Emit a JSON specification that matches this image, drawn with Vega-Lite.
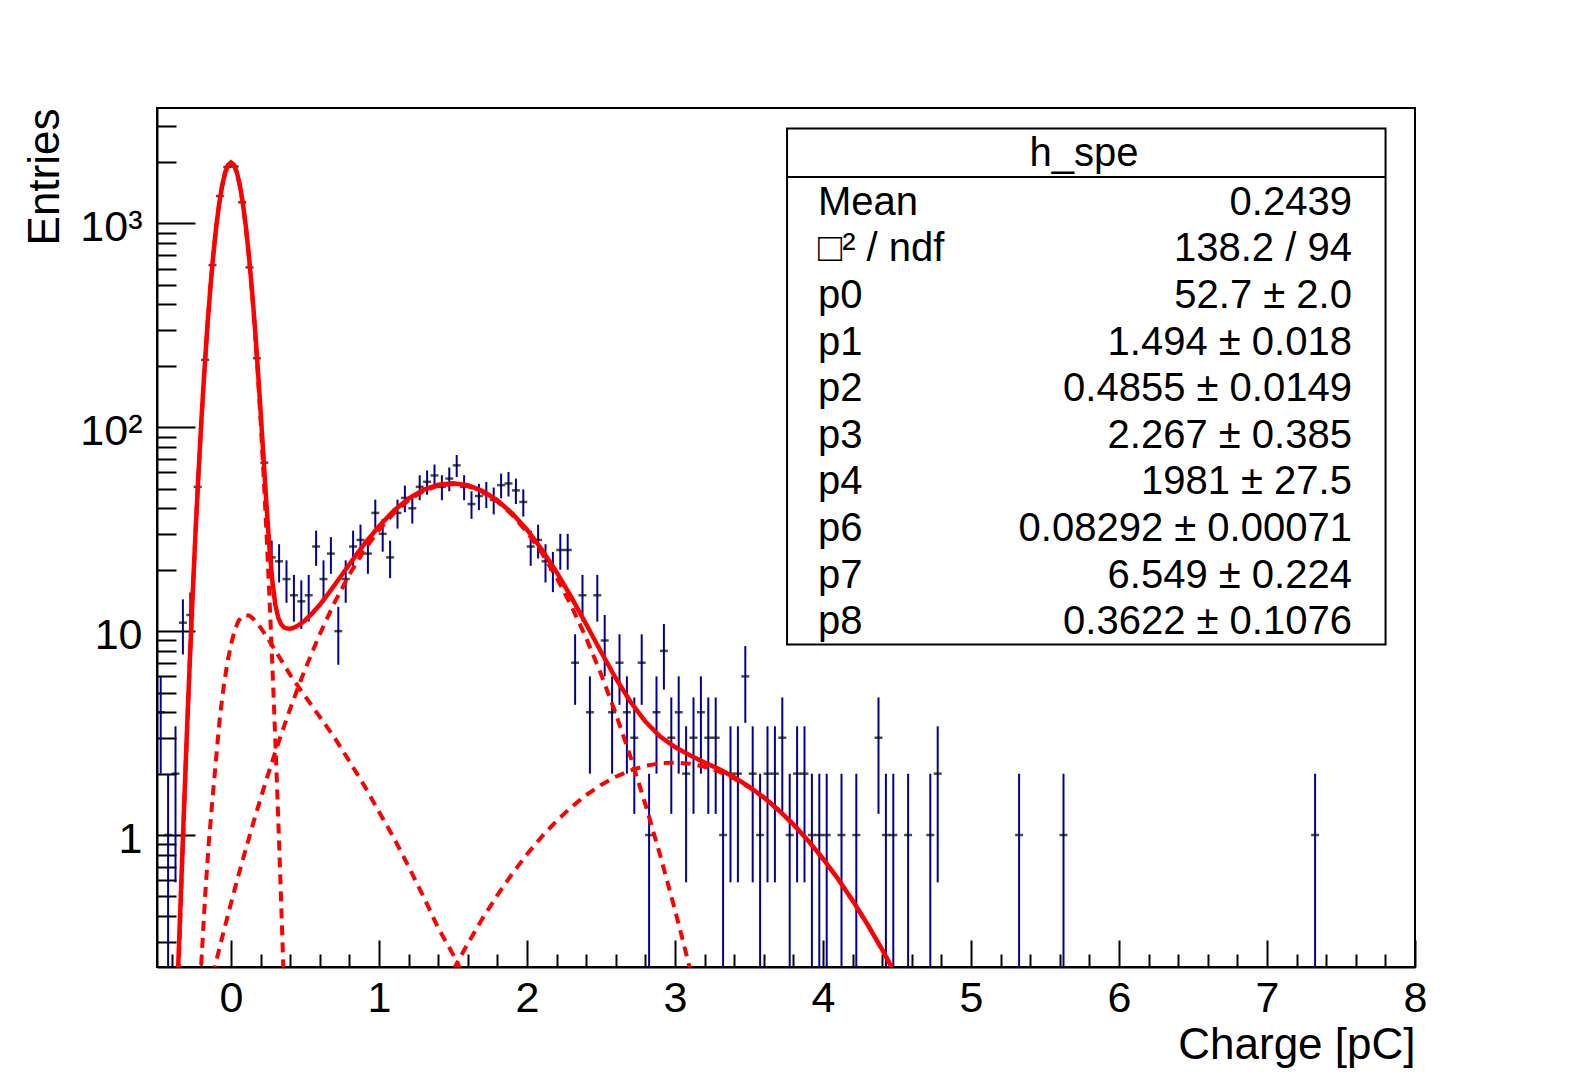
{
  "$schema": "https://vega.github.io/schema/vega-lite/v6.json",
  "width": 1258,
  "height": 859,
  "autosize": {"type": "none"},
  "padding": {"left": 157, "top": 108, "right": 160, "bottom": 108},
  "background": "white",
  "config": {
    "view": {"stroke": "black", "strokeWidth": 2},
    "font": "Liberation Sans",
    "axis": {"grid": false, "domainColor": "black", "domainWidth": 2, "tickColor": "black", "tickWidth": 2, "labelColor": "black", "titleColor": "black", "labelFont": "Liberation Sans", "titleFont": "Liberation Sans", "titleFontWeight": "normal"}
  },
  "datasets": {
    "hist": [
      {"x":-0.475,"n":4,"lo":2,"hi":6},
      {"x":-0.425,"n":1,"lo":0.001,"hi":2},
      {"x":-0.375,"n":2,"lo":0.586,"hi":3.414},
      {"x":-0.325,"n":11,"lo":7.683,"hi":14.317},
      {"x":-0.275,"n":12,"lo":8.536,"hi":15.464},
      {"x":-0.225,"n":51,"lo":43.86,"hi":58.14},
      {"x":-0.175,"n":214,"lo":199.37,"hi":228.63},
      {"x":-0.125,"n":624,"lo":599.02,"hi":648.98},
      {"x":-0.075,"n":1361,"lo":1324.11,"hi":1397.89},
      {"x":-0.025,"n":1890,"lo":1846.53,"hi":1933.47},
      {"x":0.025,"n":1900,"lo":1856.41,"hi":1943.59},
      {"x":0.075,"n":1268,"lo":1232.39,"hi":1303.61},
      {"x":0.125,"n":608,"lo":583.34,"hi":632.66},
      {"x":0.175,"n":218,"lo":203.24,"hi":232.76},
      {"x":0.225,"n":67,"lo":58.81,"hi":75.19},
      {"x":0.275,"n":23,"lo":18.2,"hi":27.8},
      {"x":0.325,"n":22,"lo":17.31,"hi":26.69},
      {"x":0.375,"n":18,"lo":13.76,"hi":22.24},
      {"x":0.425,"n":15,"lo":11.13,"hi":18.87},
      {"x":0.475,"n":14,"lo":10.26,"hi":17.74},
      {"x":0.525,"n":15,"lo":11.13,"hi":18.87},
      {"x":0.575,"n":26,"lo":20.9,"hi":31.1},
      {"x":0.625,"n":18,"lo":13.76,"hi":22.24},
      {"x":0.675,"n":24,"lo":19.1,"hi":28.9},
      {"x":0.725,"n":10,"lo":6.84,"hi":13.16},
      {"x":0.775,"n":18,"lo":13.76,"hi":22.24},
      {"x":0.825,"n":26,"lo":20.9,"hi":31.1},
      {"x":0.875,"n":28,"lo":22.71,"hi":33.29},
      {"x":0.925,"n":24,"lo":19.1,"hi":28.9},
      {"x":0.975,"n":38,"lo":31.84,"hi":44.16},
      {"x":1.025,"n":30,"lo":24.52,"hi":35.48},
      {"x":1.075,"n":23,"lo":18.2,"hi":27.8},
      {"x":1.125,"n":38,"lo":31.84,"hi":44.16},
      {"x":1.175,"n":45,"lo":38.29,"hi":51.71},
      {"x":1.225,"n":40,"lo":33.68,"hi":46.32},
      {"x":1.275,"n":51,"lo":43.86,"hi":58.14},
      {"x":1.325,"n":54,"lo":46.65,"hi":61.35},
      {"x":1.375,"n":58,"lo":50.38,"hi":65.62},
      {"x":1.425,"n":51,"lo":43.86,"hi":58.14},
      {"x":1.475,"n":56,"lo":48.52,"hi":63.48},
      {"x":1.525,"n":65,"lo":56.94,"hi":73.06},
      {"x":1.575,"n":51,"lo":43.86,"hi":58.14},
      {"x":1.625,"n":42,"lo":35.52,"hi":48.48},
      {"x":1.675,"n":46,"lo":39.22,"hi":52.78},
      {"x":1.725,"n":47,"lo":40.14,"hi":53.86},
      {"x":1.775,"n":44,"lo":37.37,"hi":50.63},
      {"x":1.825,"n":52,"lo":44.79,"hi":59.21},
      {"x":1.875,"n":53,"lo":45.72,"hi":60.28},
      {"x":1.925,"n":49,"lo":42,"hi":56},
      {"x":1.975,"n":43,"lo":36.44,"hi":49.56},
      {"x":2.025,"n":26,"lo":20.9,"hi":31.1},
      {"x":2.075,"n":28,"lo":22.71,"hi":33.29},
      {"x":2.125,"n":22,"lo":17.31,"hi":26.69},
      {"x":2.175,"n":20,"lo":15.53,"hi":24.47},
      {"x":2.225,"n":25,"lo":20,"hi":30},
      {"x":2.275,"n":25,"lo":20,"hi":30},
      {"x":2.325,"n":7,"lo":4.35,"hi":9.65},
      {"x":2.375,"n":15,"lo":11.13,"hi":18.87},
      {"x":2.425,"n":4,"lo":2,"hi":6},
      {"x":2.475,"n":15,"lo":11.13,"hi":18.87},
      {"x":2.525,"n":9,"lo":6,"hi":12},
      {"x":2.575,"n":4,"lo":2,"hi":6},
      {"x":2.625,"n":7,"lo":4.35,"hi":9.65},
      {"x":2.675,"n":4,"lo":2,"hi":6},
      {"x":2.725,"n":3,"lo":1.27,"hi":4.73},
      {"x":2.775,"n":7,"lo":4.35,"hi":9.65},
      {"x":2.825,"n":1,"lo":0.001,"hi":2},
      {"x":2.875,"n":4,"lo":2,"hi":6},
      {"x":2.925,"n":8,"lo":5.17,"hi":10.83},
      {"x":2.975,"n":3,"lo":1.27,"hi":4.73},
      {"x":3.025,"n":4,"lo":2,"hi":6},
      {"x":3.075,"n":2,"lo":0.586,"hi":3.414},
      {"x":3.125,"n":3,"lo":1.27,"hi":4.73},
      {"x":3.175,"n":4,"lo":2,"hi":6},
      {"x":3.225,"n":3,"lo":1.27,"hi":4.73},
      {"x":3.275,"n":3,"lo":1.27,"hi":4.73},
      {"x":3.325,"n":1,"lo":0.001,"hi":2},
      {"x":3.375,"n":2,"lo":0.586,"hi":3.414},
      {"x":3.425,"n":2,"lo":0.586,"hi":3.414},
      {"x":3.475,"n":6,"lo":3.55,"hi":8.45},
      {"x":3.525,"n":2,"lo":0.586,"hi":3.414},
      {"x":3.575,"n":1,"lo":0.001,"hi":2},
      {"x":3.625,"n":2,"lo":0.586,"hi":3.414},
      {"x":3.675,"n":2,"lo":0.586,"hi":3.414},
      {"x":3.725,"n":3,"lo":1.27,"hi":4.73},
      {"x":3.775,"n":1,"lo":0.001,"hi":2},
      {"x":3.825,"n":2,"lo":0.586,"hi":3.414},
      {"x":3.875,"n":2,"lo":0.586,"hi":3.414},
      {"x":3.925,"n":1,"lo":0.001,"hi":2},
      {"x":3.975,"n":1,"lo":0.001,"hi":2},
      {"x":4.025,"n":1,"lo":0.001,"hi":2},
      {"x":4.125,"n":1,"lo":0.001,"hi":2},
      {"x":4.225,"n":1,"lo":0.001,"hi":2},
      {"x":4.375,"n":3,"lo":1.27,"hi":4.73},
      {"x":4.425,"n":1,"lo":0.001,"hi":2},
      {"x":4.475,"n":1,"lo":0.001,"hi":2},
      {"x":4.575,"n":1,"lo":0.001,"hi":2},
      {"x":4.725,"n":1,"lo":0.001,"hi":2},
      {"x":4.775,"n":2,"lo":0.586,"hi":3.414},
      {"x":5.325,"n":1,"lo":0.001,"hi":2},
      {"x":5.625,"n":1,"lo":0.001,"hi":2},
      {"x":7.325,"n":1,"lo":0.001,"hi":2}
    ],
    "components": [
      {"comp":"ped","x":-0.38,"y":0.0545},{"comp":"ped","x":-0.36,"y":0.16},{"comp":"ped","x":-0.34,"y":0.4426},{"comp":"ped","x":-0.32,"y":1.156},{"comp":"ped","x":-0.3,"y":2.849},{"comp":"ped","x":-0.28,"y":6.62},{"comp":"ped","x":-0.26,"y":14.53},{"comp":"ped","x":-0.24,"y":30.06},{"comp":"ped","x":-0.22,"y":58.7},{"comp":"ped","x":-0.2,"y":108.1},{"comp":"ped","x":-0.18,"y":187.8},{"comp":"ped","x":-0.16,"y":307.9},{"comp":"ped","x":-0.14,"y":476.3},{"comp":"ped","x":-0.12,"y":695.2},{"comp":"ped","x":-0.1,"y":957.3},{"comp":"ped","x":-0.08,"y":1243.9},{"comp":"ped","x":-0.06,"y":1524.7},{"comp":"ped","x":-0.04,"y":1763.4},{"comp":"ped","x":-0.02,"y":1924.2},{"comp":"ped","x":0,"y":1981},{"comp":"ped","x":0.02,"y":1924.2},{"comp":"ped","x":0.04,"y":1763.4},{"comp":"ped","x":0.06,"y":1524.7},{"comp":"ped","x":0.08,"y":1243.9},{"comp":"ped","x":0.1,"y":957.3},{"comp":"ped","x":0.12,"y":695.2},{"comp":"ped","x":0.14,"y":476.3},{"comp":"ped","x":0.16,"y":307.9},{"comp":"ped","x":0.18,"y":187.8},{"comp":"ped","x":0.2,"y":108.1},{"comp":"ped","x":0.22,"y":58.7},{"comp":"ped","x":0.24,"y":30.06},{"comp":"ped","x":0.26,"y":14.53},{"comp":"ped","x":0.28,"y":6.62},{"comp":"ped","x":0.3,"y":2.849},{"comp":"ped","x":0.32,"y":1.156},{"comp":"ped","x":0.34,"y":0.4426},{"comp":"ped","x":0.36,"y":0.16},{"comp":"ped","x":0.38,"y":0.0545},
      {"comp":"bg","x":-0.225,"y":0.13},{"comp":"bg","x":-0.2,"y":0.24},{"comp":"bg","x":-0.175,"y":0.5},{"comp":"bg","x":-0.15,"y":0.92},{"comp":"bg","x":-0.125,"y":1.5},{"comp":"bg","x":-0.1,"y":2.4},{"comp":"bg","x":-0.075,"y":3.8},{"comp":"bg","x":-0.05,"y":5.3},{"comp":"bg","x":-0.025,"y":7.0},{"comp":"bg","x":0,"y":8.6},{"comp":"bg","x":0.025,"y":10.1},{"comp":"bg","x":0.05,"y":11.2},{"comp":"bg","x":0.075,"y":11.8},{"comp":"bg","x":0.1,"y":12.0},{"comp":"bg","x":0.125,"y":11.9},{"comp":"bg","x":0.15,"y":11.5},{"comp":"bg","x":0.2,"y":10.4},{"comp":"bg","x":0.25,"y":9.2},{"comp":"bg","x":0.3,"y":8.0},{"comp":"bg","x":0.35,"y":7.0},{"comp":"bg","x":0.4,"y":6.1},{"comp":"bg","x":0.45,"y":5.4},{"comp":"bg","x":0.5,"y":4.8},{"comp":"bg","x":0.6,"y":3.8},{"comp":"bg","x":0.7,"y":3.0},{"comp":"bg","x":0.8,"y":2.3},{"comp":"bg","x":0.9,"y":1.75},{"comp":"bg","x":1.0,"y":1.3},{"comp":"bg","x":1.1,"y":0.97},{"comp":"bg","x":1.2,"y":0.7},{"comp":"bg","x":1.3,"y":0.5},{"comp":"bg","x":1.4,"y":0.35},{"comp":"bg","x":1.5,"y":0.26},{"comp":"bg","x":1.55,"y":0.22},{"comp":"bg","x":1.6,"y":0.19},
      {"comp":"spe","x":-0.15,"y":0.1706},{"comp":"spe","x":-0.1,"y":0.2406},{"comp":"spe","x":-0.05,"y":0.3355},{"comp":"spe","x":0,"y":0.4633},{"comp":"spe","x":0.05,"y":0.6325},{"comp":"spe","x":0.1,"y":0.8545},{"comp":"spe","x":0.15,"y":1.1423},{"comp":"spe","x":0.2,"y":1.511},{"comp":"spe","x":0.25,"y":1.978},{"comp":"spe","x":0.3,"y":2.561},{"comp":"spe","x":0.35,"y":3.282},{"comp":"spe","x":0.4,"y":4.161},{"comp":"spe","x":0.45,"y":5.221},{"comp":"spe","x":0.5,"y":6.481},{"comp":"spe","x":0.6,"y":9.673},{"comp":"spe","x":0.7,"y":13.837},{"comp":"spe","x":0.8,"y":18.97},{"comp":"spe","x":0.9,"y":24.93},{"comp":"spe","x":1.0,"y":31.4},{"comp":"spe","x":1.1,"y":37.91},{"comp":"spe","x":1.2,"y":43.87},{"comp":"spe","x":1.3,"y":48.66},{"comp":"spe","x":1.4,"y":51.72},{"comp":"spe","x":1.5,"y":52.7},{"comp":"spe","x":1.6,"y":51.46},{"comp":"spe","x":1.7,"y":48.16},{"comp":"spe","x":1.8,"y":43.21},{"comp":"spe","x":1.9,"y":37.15},{"comp":"spe","x":2.0,"y":30.61},{"comp":"spe","x":2.1,"y":24.18},{"comp":"spe","x":2.2,"y":18.31},{"comp":"spe","x":2.3,"y":13.28},{"comp":"spe","x":2.4,"y":9.24},{"comp":"spe","x":2.5,"y":6.159},{"comp":"spe","x":2.6,"y":3.935},{"comp":"spe","x":2.7,"y":2.41},{"comp":"spe","x":2.8,"y":1.414},{"comp":"spe","x":2.9,"y":0.7957},{"comp":"spe","x":3.0,"y":0.4289},{"comp":"spe","x":3.05,"y":0.3101},{"comp":"spe","x":3.1,"y":0.2217},{"comp":"spe","x":3.15,"y":0.1569},
      {"comp":"dpe","x":1.45,"y":0.18445},{"comp":"dpe","x":1.5,"y":0.21656},{"comp":"dpe","x":1.55,"y":0.25288},{"comp":"dpe","x":1.6,"y":0.2938},{"comp":"dpe","x":1.7,"y":0.39022},{"comp":"dpe","x":1.8,"y":0.5074},{"comp":"dpe","x":1.9,"y":0.64594},{"comp":"dpe","x":2.0,"y":0.80503},{"comp":"dpe","x":2.1,"y":0.98227},{"comp":"dpe","x":2.2,"y":1.17333},{"comp":"dpe","x":2.3,"y":1.37222},{"comp":"dpe","x":2.4,"y":1.57103},{"comp":"dpe","x":2.5,"y":1.76101},{"comp":"dpe","x":2.6,"y":1.93246},{"comp":"dpe","x":2.7,"y":2.0761},{"comp":"dpe","x":2.8,"y":2.18357},{"comp":"dpe","x":2.9,"y":2.24846},{"comp":"dpe","x":3.0,"y":2.26666},{"comp":"dpe","x":3.1,"y":2.23704},{"comp":"dpe","x":3.2,"y":2.16147},{"comp":"dpe","x":3.3,"y":2.04461},{"comp":"dpe","x":3.4,"y":1.89349},{"comp":"dpe","x":3.5,"y":1.71673},{"comp":"dpe","x":3.6,"y":1.52388},{"comp":"dpe","x":3.7,"y":1.32415},{"comp":"dpe","x":3.8,"y":1.12656},{"comp":"dpe","x":3.9,"y":0.93831},{"comp":"dpe","x":4.0,"y":0.76507},{"comp":"dpe","x":4.1,"y":0.61078},{"comp":"dpe","x":4.2,"y":0.47727},{"comp":"dpe","x":4.3,"y":0.36524},{"comp":"dpe","x":4.4,"y":0.27358},{"comp":"dpe","x":4.5,"y":0.20063},{"comp":"dpe","x":4.6,"y":0.14405}
    ],
    "total": [
      {"x":-0.38,"y":0.085},{"x":-0.36,"y":0.196},{"x":-0.34,"y":0.485},{"x":-0.32,"y":1.205},{"x":-0.3,"y":2.907},{"x":-0.28,"y":6.69},{"x":-0.26,"y":14.61},{"x":-0.24,"y":30.2},{"x":-0.22,"y":58.97},{"x":-0.2,"y":108.5},{"x":-0.18,"y":188.4},{"x":-0.16,"y":308.8},{"x":-0.14,"y":477.6},{"x":-0.12,"y":697},{"x":-0.1,"y":960},{"x":-0.08,"y":1247.7},{"x":-0.06,"y":1529.7},{"x":-0.04,"y":1769.8},{"x":-0.02,"y":1932.1},{"x":0,"y":1990.1},{"x":0.02,"y":1934.3},{"x":0.04,"y":1774.5},{"x":0.06,"y":1536.8},{"x":0.08,"y":1256.5},{"x":0.1,"y":970.2},{"x":0.12,"y":708.1},{"x":0.14,"y":489},{"x":0.16,"y":320.4},{"x":0.18,"y":200},{"x":0.2,"y":120},{"x":0.22,"y":70.3},{"x":0.24,"y":41.4},{"x":0.26,"y":25.57},{"x":0.28,"y":17.44},{"x":0.3,"y":13.41},{"x":0.32,"y":11.59},{"x":0.34,"y":10.77},{"x":0.36,"y":10.4},{"x":0.38,"y":10.29},{"x":0.4,"y":10.28},{"x":0.42,"y":10.37},{"x":0.45,"y":10.62},{"x":0.5,"y":11.28},{"x":0.55,"y":12.26},{"x":0.6,"y":13.47},{"x":0.65,"y":15.03},{"x":0.7,"y":16.84},{"x":0.8,"y":21.27},{"x":0.9,"y":26.68},{"x":1.0,"y":32.73},{"x":1.1,"y":38.94},{"x":1.2,"y":44.66},{"x":1.3,"y":49.29},{"x":1.4,"y":52.23},{"x":1.5,"y":53.18},{"x":1.6,"y":51.94},{"x":1.7,"y":48.65},{"x":1.8,"y":43.77},{"x":1.9,"y":37.8},{"x":2.0,"y":31.42},{"x":2.1,"y":25.16},{"x":2.2,"y":19.48},{"x":2.3,"y":14.65},{"x":2.4,"y":10.81},{"x":2.5,"y":7.92},{"x":2.6,"y":5.87},{"x":2.7,"y":4.49},{"x":2.8,"y":3.6},{"x":2.9,"y":3.04},{"x":3.0,"y":2.7},{"x":3.1,"y":2.46},{"x":3.2,"y":2.27},{"x":3.3,"y":2.1},{"x":3.4,"y":1.92},{"x":3.5,"y":1.73},{"x":3.6,"y":1.53},{"x":3.7,"y":1.324},{"x":3.8,"y":1.127},{"x":3.9,"y":0.938},{"x":4.0,"y":0.765},{"x":4.1,"y":0.611},{"x":4.2,"y":0.477},{"x":4.3,"y":0.365},{"x":4.4,"y":0.274},{"x":4.5,"y":0.201},{"x":4.6,"y":0.144}
    ],
    "stats": [
      {"row":0,"label":"Mean","value":"0.2439"},
      {"row":1,"label":"□² / ndf","value":"138.2 / 94"},
      {"row":2,"label":"p0","value":"52.7 ± 2.0"},
      {"row":3,"label":"p1","value":"1.494 ± 0.018"},
      {"row":4,"label":"p2","value":"0.4855 ± 0.0149"},
      {"row":5,"label":"p3","value":"2.267 ± 0.385"},
      {"row":6,"label":"p4","value":"1981 ± 27.5"},
      {"row":7,"label":"p6","value":"0.08292 ± 0.00071"},
      {"row":8,"label":"p7","value":"6.549 ± 0.224"},
      {"row":9,"label":"p8","value":"0.3622 ± 0.1076"}
    ]
  },
  "layer": [
    {
      "layer": [
        {
          "data": {"name": "hist"},
          "mark": {"type": "rule", "color": "#000099", "strokeWidth": 2, "clip": true},
          "encoding": {
            "x": {"field": "x", "type": "quantitative", "scale": {"domain": [-0.5, 8], "nice": false, "zero": false},
              "axis": {
                "orient": "bottom",
                "values": [0,1,2,3,4,5,6,7,8],
                "format": "d",
                "tickSize": -27,
                "labelPadding": 37,
                "labelFontSize": 43,
                "labelFlush": false,
                "labelOverlap": false,
                "labelBaseline": "top",
                "title": "Charge [pC]",
                "titleFontSize": 44,
                "titleAnchor": "end",
                "titleAlign": "right",
                "titleBaseline": "top",
                "titlePadding": 3
              }},
            "y": {"field": "lo", "type": "quantitative", "scale": {"type": "log", "domain": [0.2253, 3678], "nice": false},
              "axis": {
                "orient": "left",
                "values": [1,10,100,1000],
                "labelExpr": "datum.value == 1000 ? '10³' : datum.value == 100 ? '10²' : datum.value == 10 ? '10' : '1'",
                "tickSize": -38,
                "labelPadding": 53,
                "labelOffset": 4,
                "labelFontSize": 43,
                "labelFlush": false,
                "labelOverlap": false,
                "labelBaseline": "middle",
                "title": "Entries",
                "titleFontSize": 44,
                "titleAnchor": "end",
                "titlePadding": 12
              }},
            "y2": {"field": "hi"}
          }
        },
        {
          "data": {"name": "hist"},
          "mark": {"type": "tick", "orient": "horizontal", "color": "black", "size": 8, "thickness": 2.5, "clip": true},
          "encoding": {
            "x": {"field": "x", "type": "quantitative", "scale": {"domain": [-0.5, 8], "nice": false, "zero": false},
              "axis": {
                "orient": "bottom",
                "values": [-0.4,-0.2,0.2,0.4,0.6,0.8,1.2,1.4,1.6,1.8,2.2,2.4,2.6,2.8,3.2,3.4,3.6,3.8,4.2,4.4,4.6,4.8,5.2,5.4,5.6,5.8,6.2,6.4,6.6,6.8,7.2,7.4,7.6,7.8],
                "tickSize": -13,
                "labels": false,
                "domain": false,
                "title": null
              }},
            "y": {"field": "n", "type": "quantitative", "scale": {"type": "log", "domain": [0.2253, 3678], "nice": false},
              "axis": {
                "orient": "left",
                "values": [0.3,0.4,0.5,0.6,0.7,0.8,0.9,2,3,4,5,6,7,8,9,20,30,40,50,60,70,80,90,200,300,400,500,600,700,800,900,2000,3000],
                "tickSize": -19,
                "labels": false,
                "domain": false,
                "title": null
              }}
          }
        },
        {
          "data": {"name": "components"},
          "mark": {"type": "line", "color": "#ff0000", "strokeWidth": 4, "strokeDash": [10, 7], "clip": true},
          "encoding": {
            "x": {"field": "x", "type": "quantitative", "scale": {"domain": [-0.5, 8], "nice": false, "zero": false}, "axis": null},
            "y": {"field": "y", "type": "quantitative", "scale": {"type": "log", "domain": [0.2253, 3678], "nice": false}, "axis": null},
            "detail": {"field": "comp"}
          }
        },
        {
          "data": {"name": "total"},
          "mark": {"type": "line", "color": "#ff0000", "strokeWidth": 4.5, "clip": true},
          "encoding": {
            "x": {"field": "x", "type": "quantitative", "scale": {"domain": [-0.5, 8], "nice": false, "zero": false}, "axis": null},
            "y": {"field": "y", "type": "quantitative", "scale": {"type": "log", "domain": [0.2253, 3678], "nice": false}, "axis": null}
          }
        },
        {
          "data": {"values": [{"box": "stats"}]},
          "mark": {"type": "rect", "fill": "white", "stroke": "black", "strokeWidth": 2},
          "encoding": {
            "x": {"datum": 3.757, "type": "quantitative", "scale": {"domain": [-0.5, 8], "nice": false, "zero": false}, "axis": null},
            "x2": {"datum": 7.801},
            "y": {"datum": 2917, "type": "quantitative", "scale": {"type": "log", "domain": [0.2253, 3678], "nice": false}, "axis": null},
            "y2": {"datum": 8.587}
          }
        },
        {
          "data": {"values": [{"box": "stats"}]},
          "mark": {"type": "rule", "color": "black", "strokeWidth": 2},
          "encoding": {
            "x": {"datum": 3.757, "type": "quantitative", "scale": {"domain": [-0.5, 8], "nice": false, "zero": false}, "axis": null},
            "x2": {"datum": 7.801},
            "y": {"datum": 1687, "type": "quantitative", "scale": {"type": "log", "domain": [0.2253, 3678], "nice": false}, "axis": null}
          }
        },
        {
          "data": {"values": [{"t": "h_spe"}]},
          "mark": {"type": "text", "font": "Liberation Sans", "fontSize": 40, "align": "center", "baseline": "middle", "color": "black"},
          "encoding": {
            "x": {"datum": 5.764, "type": "quantitative", "scale": {"domain": [-0.5, 8], "nice": false, "zero": false}, "axis": null},
            "y": {"datum": 2188, "type": "quantitative", "scale": {"type": "log", "domain": [0.2253, 3678], "nice": false}, "axis": null},
            "text": {"field": "t"}
          }
        }
      ],
      "resolve": {"axis": {"x": "independent", "y": "independent"}}
    },
    {
      "data": {"name": "stats"},
      "layer": [
        {
          "mark": {"type": "text", "font": "Liberation Sans", "fontSize": 40, "align": "left", "baseline": "middle", "color": "black"},
          "encoding": {
            "x": {"datum": 3.966, "type": "quantitative", "axis": null},
            "y": {"field": "row", "type": "quantitative", "scale": {"domain": [-2.03, 16.39], "reverse": true, "nice": false, "zero": false}, "axis": null},
            "text": {"field": "label"}
          }
        },
        {
          "mark": {"type": "text", "font": "Liberation Sans", "fontSize": 40, "align": "right", "baseline": "middle", "color": "black"},
          "encoding": {
            "x": {"datum": 7.574, "type": "quantitative", "axis": null},
            "y": {"field": "row", "type": "quantitative", "scale": {"domain": [-2.03, 16.39], "reverse": true, "nice": false, "zero": false}, "axis": null},
            "text": {"field": "value"}
          }
        }
      ]
    }
  ],
  "resolve": {"scale": {"y": "independent"}, "axis": {"x": "independent"}}
}
